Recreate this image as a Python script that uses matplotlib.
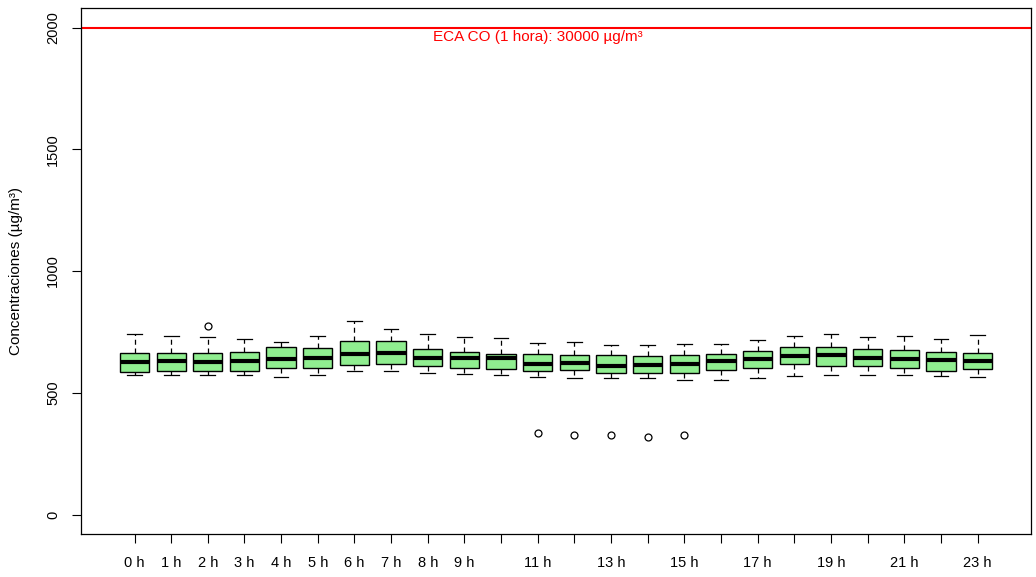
import matplotlib
matplotlib.use("Agg")
import matplotlib.pyplot as plt

plt.rcParams['font.family'] = ['Liberation Sans', 'DejaVu Sans']

# Data
hours = list(range(24))
tick_labels = ["0 h", "1 h", "2 h", "3 h", "4 h", "5 h", "6 h", "7 h", "8 h", "9 h",
               "", "11 h", "", "13 h", "", "15 h", "", "17 h", "", "19 h", "", "21 h", "", "23 h"]
whislo = [571, 571, 575, 575, 566, 571, 591, 590, 581, 579, 574, 563,
          559, 559, 559, 554, 554, 561, 570, 574, 574, 574, 570, 566]
q1 = [586, 589, 589, 589, 601, 601, 613, 618, 609, 601, 597, 589,
      594, 582, 582, 582, 594, 601, 618, 609, 609, 601, 589, 597]
med = [627, 631, 627, 631, 639, 643, 658, 662, 643, 641, 643, 620,
       622, 612, 616, 620, 632, 639, 650, 656, 643, 639, 634, 631]
q3 = [662, 662, 662, 667, 687, 683, 712, 714, 679, 667, 660, 660,
      654, 654, 650, 654, 658, 671, 687, 687, 679, 675, 667, 662]
whishi = [743, 732, 727, 721, 710, 732, 795, 763, 740, 727, 723, 706,
          710, 695, 695, 700, 700, 718, 735, 743, 731, 735, 722, 739]
fliers = [[], [], [776], [], [], [], [], [], [], [], [], [335],
          [327], [327], [318], [327], [], [], [], [], [], [], [], []]
limit_value = 2000
limit_label = "ECA CO (1 hora): 30000 µg/m³"
y_ticks = [0, 500, 1000, 1500, 2000]
y_label = "Concentraciones (µg/m³)"

fig = plt.figure(figsize=(10.36, 5.77), dpi=100)
ax = fig.add_axes([0.0782, 0.0745, 0.9952 - 0.0782, 0.9861 - 0.0745])

positions = [h + 1 for h in hours]
stats = []
for i in range(len(hours)):
    stats.append(dict(med=med[i], q1=q1[i], q3=q3[i], whislo=whislo[i],
                      whishi=whishi[i], fliers=fliers[i]))

ax.bxp(stats, positions=positions, widths=0.8, capwidths=0.4, patch_artist=True,
       boxprops=dict(facecolor='#90EE90', edgecolor='black', linewidth=1.0),
       medianprops=dict(color='black', linewidth=3.0, solid_capstyle='butt'),
       whiskerprops=dict(color='black', linewidth=0.9, linestyle=(0, (4, 3))),
       capprops=dict(color='black', linewidth=0.9),
       flierprops=dict(marker='o', markerfacecolor='none', markeredgecolor='black',
                       markersize=5, markeredgewidth=0.9))

ax.axhline(limit_value, color='red', linewidth=1.5)
ax.text(12, 1962, limit_label, color='red', ha='center', va='center', fontsize=11)

ax.set_xlim(-0.46, 25.46)
ax.set_ylim(-80, 2080)
ax.set_xticks(positions)
ax.set_xticklabels(tick_labels, fontsize=10.5)
ax.set_yticks(y_ticks)
ax.set_yticklabels([str(v) for v in y_ticks], rotation=90, va='center', fontsize=10.5)
ax.tick_params(axis='x', length=6.5, width=0.8, pad=9.5)
ax.tick_params(axis='y', length=6.5, width=0.8, pad=8.5)
ax.set_ylabel(y_label, fontsize=11)
ax.yaxis.set_label_coords(-0.061, 0.5)
for s in ax.spines.values():
    s.set_linewidth(0.9)
    s.set_color('black')

fig.savefig("out.png", dpi=100)
